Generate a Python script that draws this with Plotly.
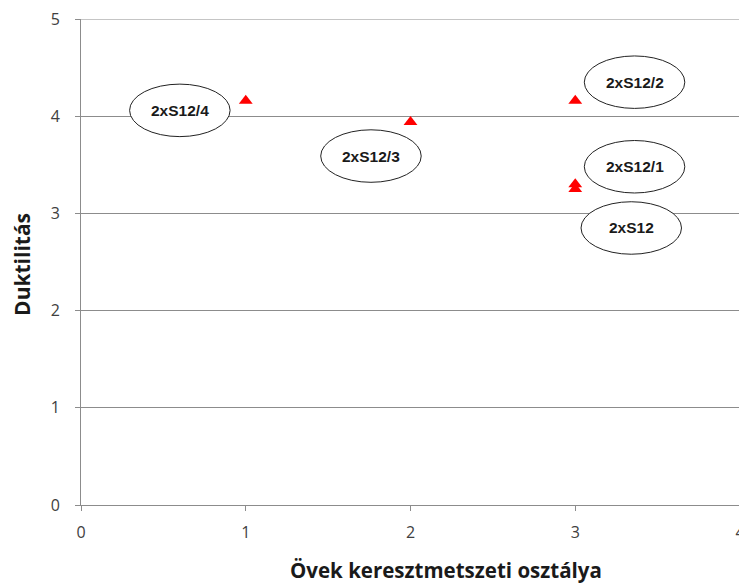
import plotly.graph_objects as go

x_vals = [1, 2, 3, 3, 3]
y_vals = [4.16, 3.94, 4.16, 3.30, 3.25]

label_texts = ["2xS12/4", "2xS12/3", "2xS12/2", "2xS12/1", "2xS12"]
label_x = [0.60, 1.76, 3.36, 3.36, 3.34]
label_y = [4.06, 3.59, 4.35, 3.48, 2.85]

x_ticks = [0, 1, 2, 3, 4]
y_ticks = [0, 1, 2, 3, 4, 5]

# page body has an 8px margin, so the figure is sized to fit the window
W, H = 739, 577
L, R, T, B = 73, 7, 11, 80
pw, ph = W - L - R, H - T - B

fig = go.Figure()
fig.add_trace(go.Scatter(
    x=x_vals, y=y_vals, mode="markers",
    marker=dict(symbol="triangle-up", size=12, color="#ff0000"),
    showlegend=False, cliponaxis=False,
))

# top gridline (plotly skips the gridline at the range end)
fig.add_shape(type="line", xref="paper", yref="y", x0=0, x1=1, y0=y_ticks[-1], y1=y_ticks[-1],
              line=dict(color="#8c8c8c", width=1), layer="below")

ew, eh = 0.305, 0.27
for t, cx, cy in zip(label_texts, label_x, label_y):
    fig.add_shape(type="circle", xref="x", yref="y",
                  x0=cx - ew, x1=cx + ew, y0=cy - eh, y1=cy + eh,
                  line=dict(color="#222222", width=1), fillcolor="white", layer="above")
    fig.add_annotation(x=cx, y=cy, xref="x", yref="y", text="<b>" + t + "</b>",
                       showarrow=False, font=dict(family="Liberation Sans, Arial", size=15.5, color="#1a1a1a"))

fig.add_annotation(xref="paper", yref="paper", x=(438 - L) / pw, y=-(562 - (H - B)) / ph,
                   xanchor="center", yanchor="middle",
                   text="<b>Övek keresztmetszeti osztálya</b>", showarrow=False,
                   font=dict(family="Open Sans", size=20.5, color="#1a1a1a"))
fig.add_annotation(xref="paper", yref="paper", x=(14 - L) / pw, y=0.494, xanchor="center",
                   yanchor="middle", textangle=-90,
                   text="<b>Duktilitás</b>", showarrow=False,
                   font=dict(family="Open Sans", size=21, color="#1a1a1a"))

fig.update_layout(
    width=W, height=H,
    margin=dict(l=L, r=R, t=T, b=B, autoexpand=False),
    paper_bgcolor="white", plot_bgcolor="white",
    font=dict(family="Open Sans, Liberation Sans", color="#404040"),
    xaxis=dict(range=[0, 4], tickvals=x_ticks, showgrid=False, showline=True,
               linecolor="#8c8c8c", linewidth=1, ticks="outside", ticklen=5,
               tickcolor="#8c8c8c", tickfont=dict(size=16, color="#404040"),
               zeroline=False, automargin=False, ticklabelstandoff=8,
               ticklabeloverflow="allow"),
    yaxis=dict(range=[0, 5], tickvals=y_ticks, showgrid=True, gridcolor="#8c8c8c",
               gridwidth=1, showline=True, linecolor="#8c8c8c", linewidth=1,
               ticks="outside", ticklen=5, tickcolor="#8c8c8c",
               tickfont=dict(size=16, color="#404040"), zeroline=False,
               automargin=False, ticklabelstandoff=12, ticklabeloverflow="allow"),
)

fig.write_html("out.html")
